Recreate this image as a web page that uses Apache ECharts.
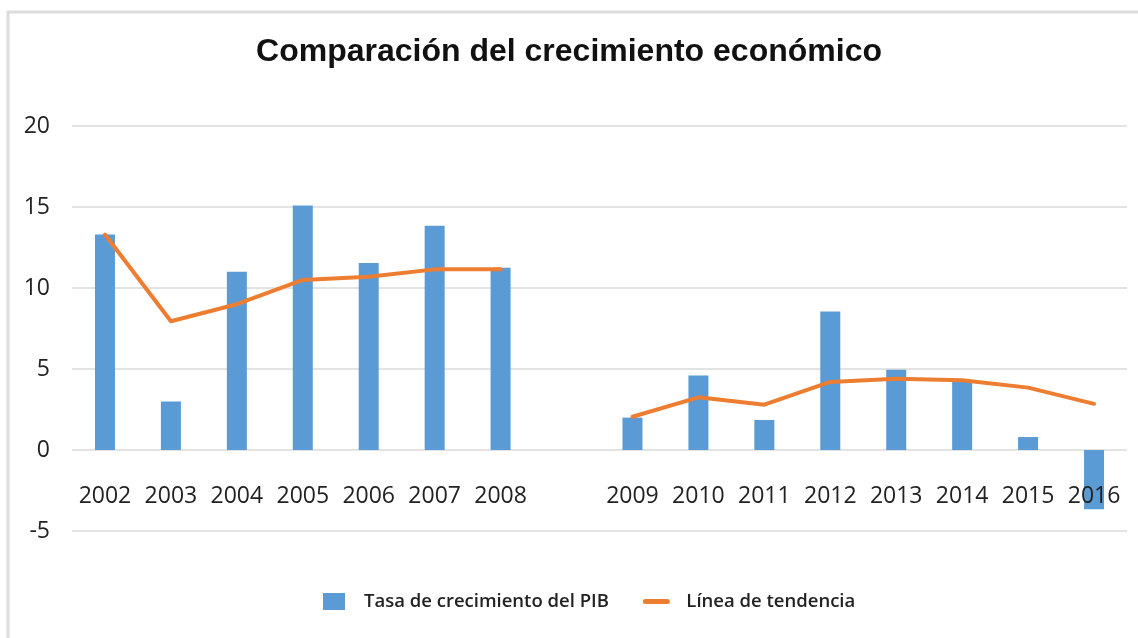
<!DOCTYPE html>
<html>
<head>
<meta charset="utf-8">
<script src="https://cdn.jsdelivr.net/npm/echarts@6/dist/echarts.min.js"></script>
<style>
    html, body { margin: 0; padding: 0; background: #fff; }
    #chart { width: 1138px; height: 638px; }
</style>
</head>
<body>
<div id="chart"></div>
<script>
// años (la categoría vacía deja el hueco entre 2008 y 2009)
var years = ["2002", "2003", "2004", "2005", "2006", "2007", "2008", "",
    "2009", "2010", "2011", "2012", "2013", "2014", "2015", "2016"];
var pibRate = [13.3, 3.0, 11.0, 15.1, 11.55, 13.85, 11.25, null,
    2.0, 4.6, 1.85, 8.55, 4.95, 4.2, 0.8, -3.65];
var trend = [13.3, 7.95, 9.0, 10.5, 10.7, 11.15, 11.15, null,
    2.05, 3.25, 2.8, 4.2, 4.4, 4.3, 3.85, 2.85];
var yTicks = { min: -5, max: 20, step: 5 };

var labelFont = "'Open Sans', 'Liberation Sans', sans-serif";
var chart = echarts.init(document.getElementById("chart"));
chart.setOption({
    animation: false,
    backgroundColor: "#fff",
    title: {
        text: "Comparación del crecimiento económico",
        left: "center",
        top: 31,
        textStyle: {
            fontFamily: "'Liberation Sans', Arial, sans-serif",
            fontWeight: "bold",
            fontSize: 32,
            color: "#111"
        }
    },
    legend: {
        bottom: 22,
        left: 318,
        itemGap: 34,
        itemWidth: 22,
        itemHeight: 17,
        textStyle: {
            fontFamily: labelFont,
            fontSize: 18.5,
            fontWeight: 600,
            color: "#222",
            padding: [0, 0, 0, 14]
        },
        data: [
            { name: "Tasa de crecimiento del PIB", icon: "rect" },
            {
                name: "Línea de tendencia",
                lineStyle: { width: 5 },
                itemStyle: { color: "rgba(0,0,0,0)", borderColor: "rgba(0,0,0,0)", borderWidth: 0 }
            }
        ]
    },
    graphic: [
        {
            type: "polyline",
            shape: { points: [[8, 638], [8, 12], [1138, 12]] },
            style: { stroke: "#dcdcdc", lineWidth: 3, fill: null }
        }
    ],
    grid: {
        left: 72,
        right: 11,
        top: 126,
        bottom: 107
    },
    xAxis: {
        type: "category",
        data: years,
        z: 5,
        axisLine: { show: false },
        axisTick: { show: false },
        axisLabel: {
            interval: 0,
            margin: -46,
            fontFamily: labelFont,
            fontSize: 23,
            color: "#222"
        }
    },
    yAxis: {
        type: "value",
        min: yTicks.min,
        max: yTicks.max,
        interval: yTicks.step,
        axisLine: { show: false },
        axisTick: { show: false },
        splitLine: { lineStyle: { color: "#e3e3e3", width: 2 } },
        axisLabel: {
            margin: 22,
            fontFamily: labelFont,
            fontSize: 23,
            color: "#222"
        }
    },
    series: [
        {
            name: "Tasa de crecimiento del PIB",
            type: "bar",
            data: pibRate,
            barWidth: 20,
            itemStyle: { color: "#5b9bd5" }
        },
        {
            name: "Línea de tendencia",
            type: "line",
            data: trend,
            smooth: false,
            connectNulls: false,
            symbol: "none",
            lineStyle: { color: "#ed7d31", width: 4, join: "round", cap: "round" },
            itemStyle: { color: "#ed7d31" },
            z: 3
        }
    ]
});
</script>
</body>
</html>
